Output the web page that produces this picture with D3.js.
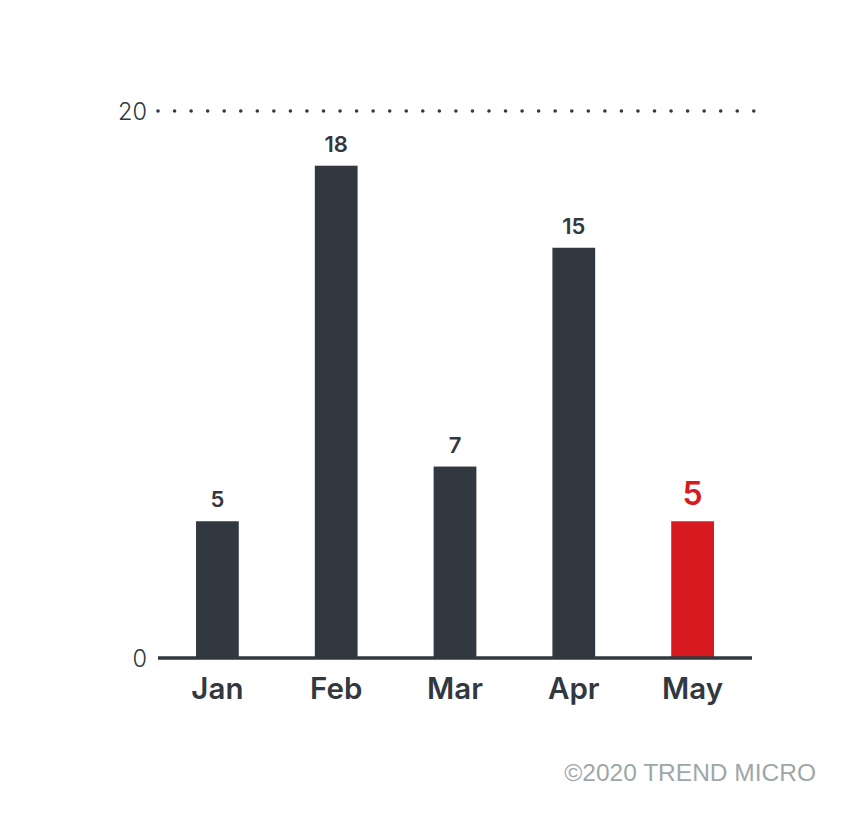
<!DOCTYPE html>
<html><head><meta charset="utf-8">
<script src="https://cdn.jsdelivr.net/npm/d3@7"></script>
<style>body{margin:0;background:#fff}svg{display:block}</style>
</head><body>
<script>
const months = ["Jan","Feb","Mar","Apr","May"];
const values = [5,18,7,15,5];
const yTicks = [0,20];
const highlight = "May";

(function(){
const W=859,H=823;
const svg=d3.select("body").append("svg").attr("width",W).attr("height",H);
const x=d3.scaleBand().domain(months).range([158,752]).paddingInner(0.64).paddingOuter(0.32);
const y=d3.scaleLinear().domain([0,20]).range([658,111]);
const dark="#31383f", red="#d71920";
const font="Inter, sans-serif";

// dotted top gridline
const gridY=y(20);
svg.append("g").selectAll("circle").data(d3.range(158,756,16.55)).join("circle")
  .attr("cx",d=>d).attr("cy",gridY).attr("r",1.8).attr("fill",dark);

// y tick labels
svg.append("g").selectAll("text").data(yTicks).join("text")
  .attr("x",147).attr("y",d=>y(d)+9).attr("text-anchor","end")
  .attr("font-family",font).attr("font-weight",300).attr("font-size",23.5).attr("fill",dark)
  .text(d=>d);

// bars
svg.append("g").selectAll("rect").data(months).join("rect")
  .attr("x",d=>x(d)).attr("width",x.bandwidth())
  .attr("y",(d,i)=>y(values[i])).attr("height",(d,i)=>y(0)-y(values[i]))
  .attr("fill",d=>d===highlight?red:dark);

// baseline
svg.append("line").attr("x1",158).attr("x2",752).attr("y1",y(0)).attr("y2",y(0))
  .attr("stroke",dark).attr("stroke-width",3.5);

// value labels
svg.append("g").selectAll("text").data(months).join("text")
  .attr("x",d=>x(d)+x.bandwidth()/2)
  .attr("y",(d,i)=>y(values[i])-(d===highlight?16:14))
  .attr("text-anchor","middle").attr("font-family",font).attr("font-weight",600)
  .attr("font-size",d=>d===highlight?32:22).attr("fill",d=>d===highlight?red:dark)
  .text((d,i)=>values[i]);

// x labels
svg.append("g").selectAll("text").data(months).join("text")
  .attr("x",d=>x(d)+x.bandwidth()/2).attr("y",699)
  .attr("text-anchor","middle").attr("font-family",font).attr("font-weight",600)
  .attr("font-size",29.5).attr("fill",dark).text(d=>d);

// copyright
svg.append("text").attr("x",816).attr("y",781).attr("text-anchor","end")
  .attr("font-family","Liberation Sans, Arial, sans-serif").attr("font-size",24.5)
  .attr("fill","#9ea7a8").text("©2020 TREND MICRO");
})();
</script>
</body></html>
